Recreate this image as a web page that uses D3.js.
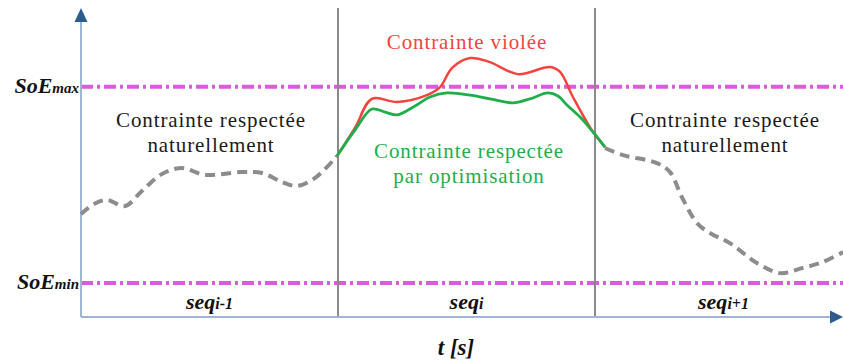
<!DOCTYPE html>
<html>
<head>
<meta charset="utf-8">
<script src="https://cdn.jsdelivr.net/npm/d3@7"></script>
<style>
  html, body { margin: 0; padding: 0; background: #ffffff; }
  svg { display: block; }
  text { font-family: "Liberation Serif", "Times New Roman", serif; }
</style>
</head>
<body>
<svg id="chart" width="843" height="360"></svg>
<script>
// Time axis [s] and state-of-energy axis [%]
const tEnd = 29.65;
const soeTop = 100;

// Sequence boundaries and labels
const seqBounds = [10, 20];
const seqMid = [5, 15, 25];
const seqBase = ["seq", "seq", "seq"];
const seqSub = ["i-1", "i", "i+1"];

// SoE constraint limits
const soeLimits = [11, 74.5];
const soeLimitSub = ["min", "max"];

// Sequence i-1: constraint respected without intervention
const tBefore   = [0, 0.51, 1.01, 1.71, 2.37, 3.15, 3.93, 4.82, 6.26, 7.04, 7.82, 8.40, 9.11, 9.96];
const soeBefore = [33.3, 36.6, 37.9, 35.9, 40.8, 46.3, 48.2, 46.0, 46.9, 46.6, 43.7, 42.4, 45.0, 52.1];

// Sequence i: unconstrained trajectory (violates SoE max)
const tViolated   = [9.96, 10.66, 11.32, 12.30, 13.46, 13.97, 14.44, 15.14, 15.91, 17.00, 18.25, 18.64, 19.14, 19.92, 20.39];
const soeViolated = [52.1, 61.2, 70.6, 69.6, 71.8, 74.4, 80.6, 83.8, 82.5, 78.6, 80.9, 79.3, 71.2, 59.9, 55.0];

// Sequence i: optimised trajectory (stays under SoE max)
const tOptimised   = [9.96, 10.66, 11.32, 11.83, 12.30, 13.00, 13.58, 14.24, 15.14, 15.91, 16.81, 17.47, 18.17, 18.56, 18.91, 19.42, 19.92, 20.39];
const soeOptimised = [52.1, 60.5, 67.3, 66.3, 65.4, 68.3, 71.2, 72.5, 71.8, 70.6, 69.3, 70.6, 72.5, 71.5, 68.6, 64.7, 59.9, 55.0];

// Sequence i+1: constraint respected without intervention
const tAfter   = [20.39, 21.09, 22.41, 22.92, 23.38, 23.97, 24.47, 25.25, 26.30, 27.20, 28.09, 28.87, 29.65];
const soeAfter = [54.7, 52.4, 49.8, 46.9, 38.8, 30.4, 27.2, 23.9, 17.5, 14.2, 15.9, 17.8, 21.0];

// Annotations
const noteLeft   = ["Contrainte respectée", "naturellement"];
const noteRight  = ["Contrainte respectée", "naturellement"];
const noteRed    = ["Contrainte violée"];
const noteGreen  = ["Contrainte respectée", "par optimisation"];
const axisXLabel = "t [s]";

const svg = d3.select("#chart");

const x = d3.scaleLinear().domain([0, tEnd]).range([81, 843]);
const y = d3.scaleLinear().domain([0, soeTop]).range([317, 8]);

const colAxis = "#9fb6d3";
const colArrow = "#2d5b8e";
const colSep = "#8a8a8a";
const colLimit = "#dd5ade";
const colGrey = "#8c8c8c";
const colRed = "#f2443e";
const colGreen = "#1fae4a";

// SoE limit lines (dash-dot)
svg.selectAll("line.limit").data(soeLimits).join("line")
  .attr("class", "limit")
  .attr("x1", x(0)).attr("x2", x(tEnd))
  .attr("y1", d => y(d)).attr("y2", d => y(d))
  .attr("stroke", colLimit)
  .attr("stroke-width", 4)
  .attr("stroke-dasharray", "12,4,3,4");

// Sequence separators
svg.selectAll("line.sep").data(seqBounds).join("line")
  .attr("class", "sep")
  .attr("x1", d => x(d)).attr("x2", d => x(d))
  .attr("y1", y(soeTop)).attr("y2", y(0))
  .attr("stroke", colSep)
  .attr("stroke-width", 2);

// Axes with arrow heads
const x0 = x(0), y0 = y(0), yTop = y(soeTop), xEnd = x(tEnd);
svg.append("line")
  .attr("x1", x0).attr("x2", x0).attr("y1", y0).attr("y2", yTop + 12)
  .attr("stroke", colAxis).attr("stroke-width", 2);
svg.append("line")
  .attr("x1", x0).attr("x2", xEnd - 12).attr("y1", y0).attr("y2", y0)
  .attr("stroke", colAxis).attr("stroke-width", 2);
svg.append("path")
  .attr("d", `M${x0},${yTop} L${x0 - 6.5},${yTop + 14} L${x0 + 6.5},${yTop + 14} Z`)
  .attr("fill", colArrow);
svg.append("path")
  .attr("d", `M${xEnd},${y0} L${xEnd - 13},${y0 - 6.5} L${xEnd - 13},${y0 + 6.5} Z`)
  .attr("fill", colArrow);

// Trajectories
const line = d3.line()
  .x(d => x(d[0]))
  .y(d => y(d[1]))
  .curve(d3.curveCatmullRom.alpha(0.5));

const zipPts = (t, v) => t.map((ti, i) => [ti, v[i]]);

[[tBefore, soeBefore], [tAfter, soeAfter]].forEach(([t, v]) => {
  svg.append("path")
    .attr("d", line(zipPts(t, v)))
    .attr("fill", "none")
    .attr("stroke", colGrey)
    .attr("stroke-width", 4)
    .attr("stroke-dasharray", "10,6");
});

svg.append("path")
  .attr("d", line(zipPts(tViolated, soeViolated)))
  .attr("fill", "none")
  .attr("stroke", colRed)
  .attr("stroke-width", 2.5);

svg.append("path")
  .attr("d", line(zipPts(tOptimised, soeOptimised)))
  .attr("fill", "none")
  .attr("stroke", colGreen)
  .attr("stroke-width", 2.8);

// Text annotations
function note(lines, cx, baseline, color) {
  const t = svg.append("text")
    .attr("text-anchor", "middle")
    .attr("font-size", 21)
    .attr("letter-spacing", 0.9)
    .attr("fill", color);
  lines.forEach((s, i) => {
    t.append("tspan").attr("x", cx).attr("y", baseline + i * 25).text(s);
  });
}
note(noteLeft, 211, 127, "#1a1a1a");
note(noteRight, 725, 127, "#1a1a1a");
note(noteRed, 467, 49, colRed);
note(noteGreen, 469, 158, colGreen);

// SoE limit labels
soeLimits.forEach((v, i) => {
  const t = svg.append("text")
    .attr("x", x0 - 2).attr("y", y(v) + 6)
    .attr("text-anchor", "end")
    .attr("font-weight", "bold")
    .attr("font-style", "italic")
    .attr("fill", "#111");
  t.append("tspan").attr("font-size", 22).text("SoE");
  t.append("tspan").attr("font-size", 15).text(soeLimitSub[i]);
});

// Sequence labels
seqMid.forEach((m, i) => {
  const t = svg.append("text")
    .attr("x", x(m)).attr("y", 309)
    .attr("text-anchor", "middle")
    .attr("font-weight", "bold")
    .attr("font-style", "italic")
    .attr("fill", "#111");
  t.append("tspan").attr("font-size", 22).text(seqBase[i]);
  t.append("tspan").attr("font-size", 16).text(seqSub[i]);
});

// Time axis label
svg.append("text")
  .attr("x", 456).attr("y", 355)
  .attr("text-anchor", "middle")
  .attr("font-size", 23)
  .attr("font-weight", "bold")
  .attr("font-style", "italic")
  .attr("fill", "#111")
  .text(axisXLabel);
</script>
</body>
</html>
